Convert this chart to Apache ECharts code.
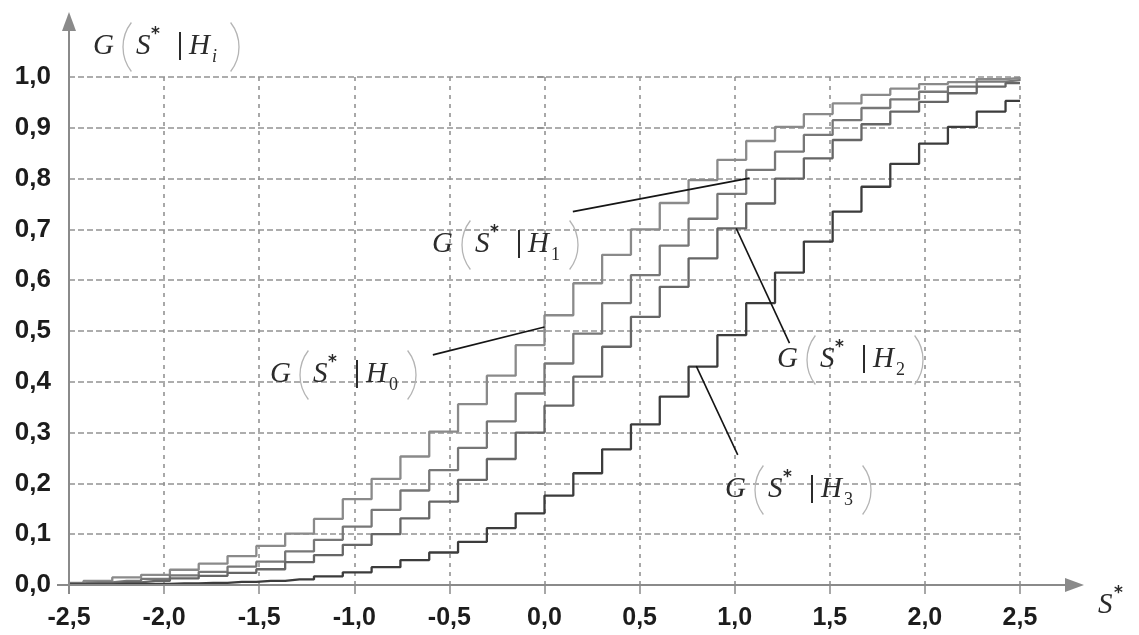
<!DOCTYPE html>
<html>
<head>
<meta charset="utf-8">
<script src="https://cdn.jsdelivr.net/npm/echarts@6/dist/echarts.min.js"></script>
<style>
  html, body { margin: 0; padding: 0; background: #fff; }
  #main { width: 1139px; height: 635px; }
</style>
</head>
<body>
<div id="main"></div>
<script>
// S* sample points (one value per step)
const sValues = [-2.5, -2.348, -2.197, -2.045, -1.894, -1.742, -1.591, -1.439, -1.288, -1.136,
  -0.985, -0.833, -0.682, -0.530, -0.379, -0.227, -0.076, 0.076, 0.227, 0.379,
  0.530, 0.682, 0.833, 0.985, 1.136, 1.288, 1.439, 1.591, 1.742, 1.894,
  2.045, 2.197, 2.348, 2.5];

// G(S*|Hi) step values
const gH0 = [0.004, 0.008, 0.015, 0.020, 0.030, 0.042, 0.057, 0.077, 0.101, 0.130,
  0.169, 0.209, 0.253, 0.302, 0.356, 0.412, 0.472, 0.531, 0.594, 0.650,
  0.700, 0.752, 0.797, 0.837, 0.874, 0.902, 0.927, 0.948, 0.965, 0.977,
  0.986, 0.990, 0.996, 0.998];
const gH1 = [0.003, 0.005, 0.008, 0.012, 0.019, 0.026, 0.036, 0.046, 0.066, 0.089,
  0.115, 0.148, 0.186, 0.226, 0.270, 0.322, 0.377, 0.436, 0.495, 0.555,
  0.610, 0.668, 0.721, 0.770, 0.817, 0.853, 0.886, 0.915, 0.939, 0.956,
  0.971, 0.981, 0.991, 0.994];
const gH2 = [0.002, 0.003, 0.005, 0.008, 0.013, 0.018, 0.024, 0.031, 0.045, 0.059,
  0.079, 0.100, 0.131, 0.164, 0.207, 0.248, 0.300, 0.353, 0.410, 0.469,
  0.528, 0.587, 0.643, 0.702, 0.751, 0.800, 0.840, 0.876, 0.907, 0.932,
  0.951, 0.968, 0.981, 0.988];
const gH3 = [0.001, 0.001, 0.002, 0.002, 0.003, 0.004, 0.006, 0.008, 0.011, 0.017,
  0.025, 0.035, 0.049, 0.064, 0.085, 0.112, 0.141, 0.176, 0.220, 0.267,
  0.316, 0.371, 0.430, 0.492, 0.555, 0.615, 0.676, 0.735, 0.784, 0.829,
  0.869, 0.902, 0.932, 0.953];

const xTickLabels = ['-2,5', '-2,0', '-1,5', '-1,0', '-0,5', '0,0', '0,5', '1,0', '1,5', '2,0', '2,5'];
const yTickLabels = ['0,0', '0,1', '0,2', '0,3', '0,4', '0,5', '0,6', '0,7', '0,8', '0,9', '1,0'];

const curveSubs = ['0', '1', '2', '3'];
const curveColors = ['#8a8a8a', '#777777', '#666666', '#3c3c3c'];

const gridColor = '#939393';
const axisColor = '#8a8a8a';
const ink = '#2b2b2b';
const labelFont = { fontFamily: 'Liberation Sans', fontWeight: 'bold', color: '#1c1c1c' };

function stepSeries(name, values, color) {
  return {
    name: name,
    type: 'line',
    step: 'middle',
    showSymbol: false,
    silent: true,
    data: sValues.map((s, i) => [s, values[i]]),
    lineStyle: { color: color, width: 2.3 },
    z: 5
  };
}

const option = {
  animation: false,
  backgroundColor: '#fff',
  grid: { left: 69, right: 119, top: 77, bottom: 50 },
  xAxis: {
    type: 'value',
    min: -2.5,
    max: 2.5,
    interval: 0.5,
    axisLine: { show: false },
    axisTick: { show: true, length: 9, lineStyle: { color: axisColor, width: 1.5 } },
    axisLabel: Object.assign({ margin: 21, fontSize: 25, formatter: v => xTickLabels[Math.round((v + 2.5) * 2)] }, labelFont),
    splitLine: { show: true, lineStyle: { color: gridColor, width: 1.6, type: [4, 5] } }
  },
  yAxis: {
    type: 'value',
    min: 0,
    max: 1,
    interval: 0.1,
    axisLine: { show: false },
    axisTick: { show: true, length: 7, lineStyle: { color: axisColor, width: 1.5 } },
    axisLabel: Object.assign({ margin: 18, fontSize: 26, formatter: v => yTickLabels[Math.round(v * 10)] }, labelFont),
    splitLine: { show: true, lineStyle: { color: gridColor, width: 1.6, type: [6, 3] } }
  },
  series: [
    stepSeries('H0', gH0, curveColors[0]),
    stepSeries('H1', gH1, curveColors[1]),
    stepSeries('H2', gH2, curveColors[2]),
    stepSeries('H3', gH3, curveColors[3])
  ]
};

const chart = echarts.init(document.getElementById('main'));
chart.setOption(option);

// formula label G(S*|H_k), big thin brackets drawn as arcs
function mathLabel(x, y, sub, subItalic) {
  const serif = 'Liberation Serif';
  const it = (t, dx, dy) => ({
    type: 'text', x: dx, y: dy,
    style: { text: t, fontFamily: serif, fontStyle: 'italic', fontSize: 29, fill: ink, verticalAlign: 'middle' }
  });
  const bracket = (dx, left) => ({
    type: 'arc',
    shape: left
      ? { cx: dx + 40, cy: 1, r: 40, startAngle: Math.PI * (1 - 0.21), endAngle: Math.PI * (1 + 0.21) }
      : { cx: dx - 40, cy: 1, r: 40, startAngle: -Math.PI * 0.21, endAngle: Math.PI * 0.21 },
    style: { stroke: '#b4b4b4', lineWidth: 1.3, fill: null }
  });
  return {
    type: 'group', x: x, y: y, z: 100,
    children: [
      it('G', 0, 0),
      bracket(30, true),
      it('S', 43, 0),
      { type: 'text', x: 58, y: -11, style: { text: '*', fontFamily: 'DejaVu Sans', fontWeight: 'bold', fontSize: 17, fill: ink, verticalAlign: 'middle' } },
      { type: 'line', shape: { x1: 87, y1: -14, x2: 87, y2: 14 }, style: { stroke: ink, lineWidth: 2 } },
      it('H', 96, 0),
      { type: 'text', x: 119, y: 11, style: { text: sub, fontFamily: serif, fontStyle: subItalic ? 'italic' : 'normal', fontSize: 18, fill: ink, verticalAlign: 'middle' } },
      bracket(146, false)
    ]
  };
}

// leader lines, in data coordinates
const pointers = [
  [[0.149, 0.735], [1.078, 0.801]],
  [[-0.587, 0.453], [0.0, 0.508]],
  [[1.008, 0.702], [1.288, 0.476]],
  [[0.798, 0.431], [1.016, 0.256]]
];

const origin = chart.convertToPixel({ gridIndex: 0 }, [-2.5, 0]);
const ox = origin[0], oy = origin[1];

const graphics = [
  // axes with arrows
  { type: 'line', shape: { x1: ox, y1: oy + 9, x2: ox, y2: 28 }, style: { stroke: axisColor, lineWidth: 2 }, z: 50 },
  { type: 'polygon', shape: { points: [[ox - 7, 31], [ox + 7, 31], [ox, 12]] }, style: { fill: axisColor }, z: 50 },
  { type: 'line', shape: { x1: ox - 12, y1: oy, x2: 1068, y2: oy }, style: { stroke: axisColor, lineWidth: 2 }, z: 50 },
  { type: 'polygon', shape: { points: [[1065, oy - 7], [1065, oy + 7], [1084, oy]] }, style: { fill: axisColor }, z: 50 },
  // axis titles
  mathLabel(93, 46, 'i', true),
  {
    type: 'group', x: 1098, y: 605, z: 100,
    children: [
      { type: 'text', x: 0, y: 0, style: { text: 'S', fontFamily: 'Liberation Serif', fontStyle: 'italic', fontSize: 29, fill: ink, verticalAlign: 'middle' } },
      { type: 'text', x: 16, y: -11, style: { text: '*', fontFamily: 'DejaVu Sans', fontWeight: 'bold', fontSize: 17, fill: ink, verticalAlign: 'middle' } }
    ]
  },
  // curve labels
  mathLabel(432, 244, curveSubs[1], false),
  mathLabel(270, 374, curveSubs[0], false),
  mathLabel(777, 359, curveSubs[2], false),
  mathLabel(725, 489, curveSubs[3], false)
];

pointers.forEach(p => {
  const a = chart.convertToPixel({ gridIndex: 0 }, p[0]);
  const b = chart.convertToPixel({ gridIndex: 0 }, p[1]);
  graphics.push({ type: 'line', shape: { x1: a[0], y1: a[1], x2: b[0], y2: b[1] }, style: { stroke: '#151515', lineWidth: 1.6 }, z: 60 });
});

chart.setOption({ graphic: graphics });
</script>
</body>
</html>
